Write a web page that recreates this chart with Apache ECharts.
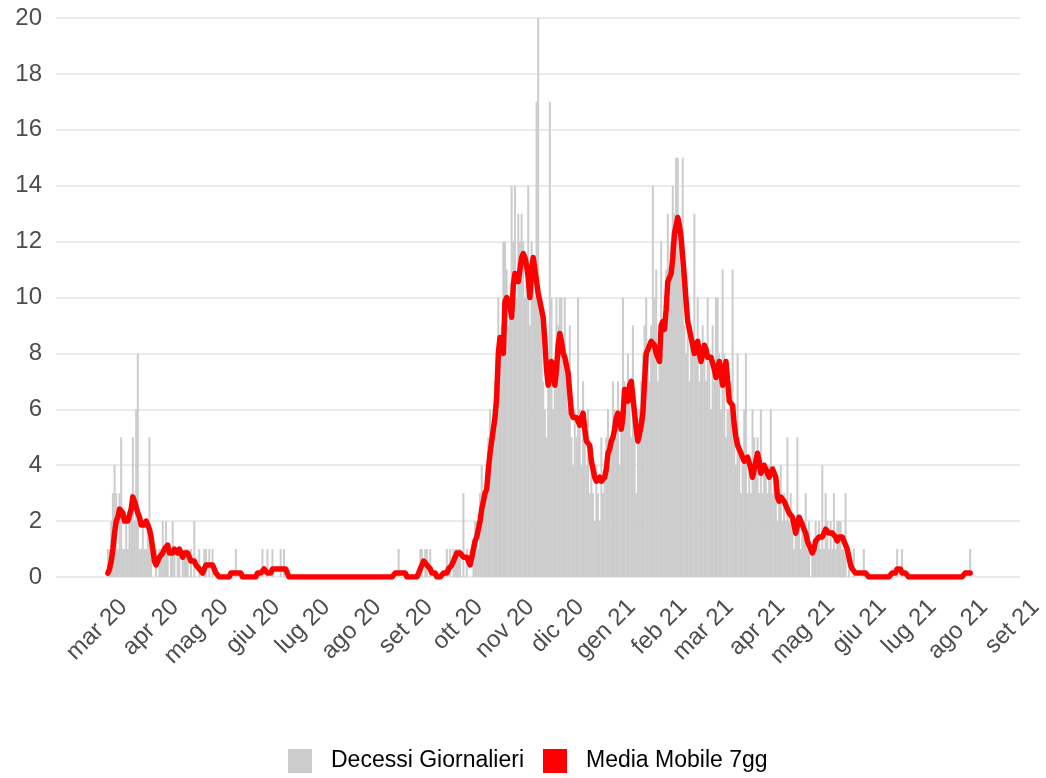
<!DOCTYPE html>
<html><head><meta charset="utf-8">
<script src="https://cdn.jsdelivr.net/npm/echarts@6/dist/echarts.min.js"></script>
<style>html,body{margin:0;padding:0;background:#fff}#c{width:1046px;height:778px}</style>
</head><body><div id="c"></div>
<script>
// ---- data ----
const startDate = [2020, 1, 18]; // 18 Feb 2020 (UTC), one value per day
const monthNames = ['gen','feb','mar','apr','mag','giu','lug','ago','set','ott','nov','dic'];
const seriesNames = ['Decessi Giornalieri', 'Media Mobile 7gg'];
const yMin = 0, yMax = 20, yStep = 2;

const deaths = [
1,1,2,3,4,3,1,3,5,1,
1,2,1,2,3,5,2,6,8,1,
1,2,1,1,2,5,1,0,0,1,
0,1,1,2,1,2,1,0,1,2,
1,0,1,1,0,1,1,1,1,0,
1,0,2,0,0,1,0,0,1,1,
0,1,0,1,0,0,0,0,0,0,
0,0,0,0,0,0,0,1,0,0,
0,0,0,0,0,0,0,0,0,0,
0,0,0,1,0,0,1,0,0,1,
0,0,0,0,1,0,1,0,0,0,
0,0,0,0,0,0,0,0,0,0,
0,0,0,0,0,0,0,0,0,0,
0,0,0,0,0,0,0,0,0,0,
0,0,0,0,0,0,0,0,0,0,
0,0,0,0,0,0,0,0,0,0,
0,0,0,0,0,0,0,0,0,0,
0,0,0,0,0,1,0,0,0,0,
0,0,0,0,0,0,0,0,1,1,
0,1,1,0,1,0,0,0,0,0,
0,0,0,0,1,0,1,0,1,1,
1,1,1,0,3,0,1,0,0,0,
1,2,2,1,3,4,3,3,4,5,
6,5,6,7,6,10,8,9,12,12,
11,9,10,14,12,14,10,13,12,13,
12,10,11,14,9,12,11,10,17,20,
10,9,7,6,5,7,17,10,6,7,
10,9,10,10,8,10,7,6,9,5,
4,6,5,10,6,4,7,5,4,6,
3,4,3,2,4,3,2,5,3,4,
5,6,4,5,7,6,5,7,4,6,
10,7,6,8,7,5,9,6,3,5,
6,7,8,9,10,8,7,9,14,10,
11,7,9,12,8,9,11,13,10,12,
14,13,15,15,12,11,15,9,8,10,
7,9,8,13,8,10,7,8,9,8,
7,10,8,6,9,7,10,10,8,6,
11,8,5,6,6,7,11,5,4,8,
5,3,4,6,8,3,4,3,6,5,
4,5,3,6,3,4,4,3,4,6,
3,4,3,2,3,4,2,3,2,5,
2,3,2,1,2,5,2,1,2,2,
3,1,2,0,1,1,2,1,2,1,
4,1,3,2,1,2,1,3,1,2,
2,2,1,1,3,0,1,0,0,1,
0,0,0,0,0,1,0,0,0,0,
0,0,0,0,0,0,0,0,0,0,
0,0,0,0,0,1,0,0,1,0,
0,0,0,0,0,0,0,0,0,0,
0,0,0,0,0,0,0,0,0,0,
0,0,0,0,0,0,0,0,0,0,
0,0,0,0,0,0,0,0,0,1
];

const movingAvg = [
0.14,0.29,0.57,1.0,1.57,2.0,2.14,2.43,2.43,2.29,
2.0,2.0,2.0,2.0,2.43,2.86,2.71,2.71,2.29,2.14,
1.86,1.86,1.86,2.0,1.86,1.71,1.43,1.0,0.57,0.43,
0.57,0.71,0.71,0.86,1.0,1.0,1.14,0.86,0.86,0.86,
1.0,1.0,0.86,1.0,0.86,0.71,0.86,0.86,0.86,0.71,
0.57,0.57,0.57,0.43,0.43,0.29,0.29,0.14,0.29,0.43,
0.43,0.43,0.43,0.43,0.29,0.14,0.14,0,0,0,
0,0,0,0,0.14,0.14,0.14,0.14,0.14,0.14,
0.14,0,0,0,0,0,0,0,0,0,
0.14,0.14,0.14,0.14,0.29,0.29,0.14,0.14,0.14,0.29,
0.29,0.29,0.29,0.29,0.29,0.29,0.29,0.29,0.14,0,
0,0,0,0,0,0,0,0,0,0,
0,0,0,0,0,0,0,0,0,0,
0,0,0,0,0,0,0,0,0,0,
0,0,0,0,0,0,0,0,0,0,
0,0,0,0,0,0,0,0,0,0,
0,0,0,0,0,0,0,0,0,0,
0,0,0,0.14,0.14,0.14,0.14,0.14,0.14,0.14,
0,0,0,0,0,0,0,0.14,0.29,0.43,
0.57,0.57,0.43,0.43,0.29,0.14,0.14,0.14,0,0,
0,0,0.14,0.14,0.14,0.29,0.29,0.43,0.57,0.71,
0.86,0.86,0.86,0.86,0.71,0.71,0.71,0.57,0.43,0.71,
1.0,1.29,1.43,1.43,2.0,2.43,2.71,3.0,3.14,3.86,
4.43,4.86,5.29,5.71,6.43,8.0,8.57,8.29,8.0,9.86,
10.0,10.0,9.71,9.29,10.43,10.86,10.71,10.57,11.0,11.43,
11.57,11.43,11.14,10.71,10.0,11.0,11.43,11.0,10.57,10.14,
9.86,9.57,9.29,8.43,7.43,6.86,7.14,7.71,7.43,6.86,
7.43,8.29,8.71,8.43,8.0,7.86,7.57,7.29,6.57,5.86,
5.71,5.71,5.71,5.57,5.43,5.71,5.86,5.29,4.86,4.86,
4.71,4.14,3.86,3.57,3.43,3.43,3.57,3.43,3.43,3.57,
3.86,4.43,4.57,4.86,5.0,5.29,5.71,5.86,5.57,5.29,
5.71,6.71,6.43,6.29,6.86,7.0,6.43,5.86,5.29,4.86,
5.14,5.43,5.86,7.0,8.0,8.14,8.29,8.43,8.43,8.29,
8.0,7.86,7.71,9.0,9.14,8.86,9.57,10.57,10.71,10.86,
11.43,12.29,12.57,12.86,12.57,12.14,11.43,10.71,9.86,9.14,
8.86,8.57,8.29,8.0,8.29,8.43,8.0,7.71,8.0,8.29,
8.14,7.86,7.86,7.86,7.86,7.43,7.14,7.43,7.71,7.29,
6.86,7.43,7.71,7.0,6.29,6.29,6.14,5.43,5.0,4.71,
4.57,4.43,4.29,4.14,4.14,4.29,4.29,3.86,3.57,3.86,
4.14,4.43,4.14,3.71,3.71,4.0,3.86,3.71,3.57,3.71,
3.86,3.86,3.57,2.86,2.71,2.86,2.86,2.71,2.57,2.43,
2.29,2.29,2.14,1.86,1.57,1.86,2.14,2.0,1.86,1.71,
1.57,1.29,1.14,1.0,0.86,1.0,1.29,1.29,1.43,1.43,
1.43,1.57,1.71,1.71,1.57,1.57,1.57,1.57,1.43,1.29,
1.43,1.43,1.43,1.29,1.14,1.0,0.71,0.43,0.29,0.29,
0.14,0.14,0.14,0.14,0.14,0.14,0.14,0.14,0,0,
0,0,0,0,0,0,0,0,0,0,
0,0,0.14,0.14,0.14,0.29,0.29,0.29,0.14,0.14,
0.14,0.14,0,0,0,0,0,0,0,0,
0,0,0,0,0,0,0,0,0,0,
0,0,0,0,0,0,0,0,0,0,
0,0,0,0,0,0,0.14,0.14,0.14,0.14
];

// ---- build ----
const DAY = 86400000;
const t0 = Date.UTC(startDate[0], startDate[1], startDate[2]);
const dates = deaths.map((_, i) => t0 + i * DAY);
const barData = deaths.map((v, i) => [dates[i], v]);
const lineData = movingAvg.map((v, i) => [dates[i], v]);

const mar20 = Date.UTC(2020, 2, 1), set21 = Date.UTC(2021, 8, 1);
const pxPerDay = 914 / 549;
const panelMin = mar20 - (71 / pxPerDay) * DAY;
const panelMax = mar20 + (893 / pxPerDay) * DAY;

const FONT = '"Liberation Sans", Arial, sans-serif';
const chart = echarts.init(document.getElementById('c'), null, {renderer: 'canvas'});
chart.setOption({
  animation: false,
  useUTC: true,
  backgroundColor: '#ffffff',
  grid: [
    {left: 56, right: 26, top: 18, bottom: 201},
    {left: 115, right: 17, top: 18, bottom: 201}
  ],
  legend: {
    left: 283, top: 744, itemWidth: 24, itemHeight: 24, itemGap: 19,
    icon: 'rect',
    textStyle: {fontSize: 23, color: '#000000', fontFamily: FONT, padding: [0, 0, 0, 14]},
    data: [
      {name: seriesNames[0], itemStyle: {color: '#cccccc'}},
      {name: seriesNames[1], itemStyle: {color: '#ff0000'}}
    ]
  },
  xAxis: [
    {type: 'time', gridIndex: 0, min: panelMin, max: panelMax,
     axisLine: {show: false}, axisTick: {show: false}, axisLabel: {show: false}, splitLine: {show: false}},
    {type: 'time', gridIndex: 1, min: mar20, max: set21,
     minInterval: 28 * DAY, maxInterval: 31 * DAY,
     axisLine: {show: false}, axisTick: {show: false}, splitLine: {show: false},
     axisLabel: {
       show: true, rotate: 45, margin: 18, fontSize: 24, color: '#4d4d4d', fontFamily: FONT,
       verticalAlign: 'top', align: 'right', hideOverlap: false, interval: 0,
       showMinLabel: true, showMaxLabel: true,
       formatter: function (val) {
         const d = new Date(val);
         return monthNames[d.getUTCMonth()] + ' ' + String(d.getUTCFullYear()).slice(2);
       }
     }}
  ],
  yAxis: [
    {type: 'value', gridIndex: 0, min: yMin, max: yMax, interval: yStep,
     axisLine: {show: false}, axisTick: {show: false},
     axisLabel: {margin: 14, fontSize: 24, color: '#4d4d4d', fontFamily: FONT},
     splitLine: {show: true, lineStyle: {color: '#ebebeb', width: 2}}},
    {type: 'value', gridIndex: 1, min: yMin, max: yMax, show: false}
  ],
  series: [
    {name: seriesNames[0], type: 'bar', xAxisIndex: 0, yAxisIndex: 0, data: barData,
     barWidth: 2, itemStyle: {color: '#cccccc'}, z: 1},
    {name: seriesNames[1], type: 'line', xAxisIndex: 0, yAxisIndex: 0, data: lineData,
     showSymbol: false, symbol: 'none', itemStyle: {color: '#ff0000'},
     lineStyle: {color: '#ff0000', width: 5.5, join: 'round', cap: 'round'}, z: 3}
  ]
});
</script></body></html>
